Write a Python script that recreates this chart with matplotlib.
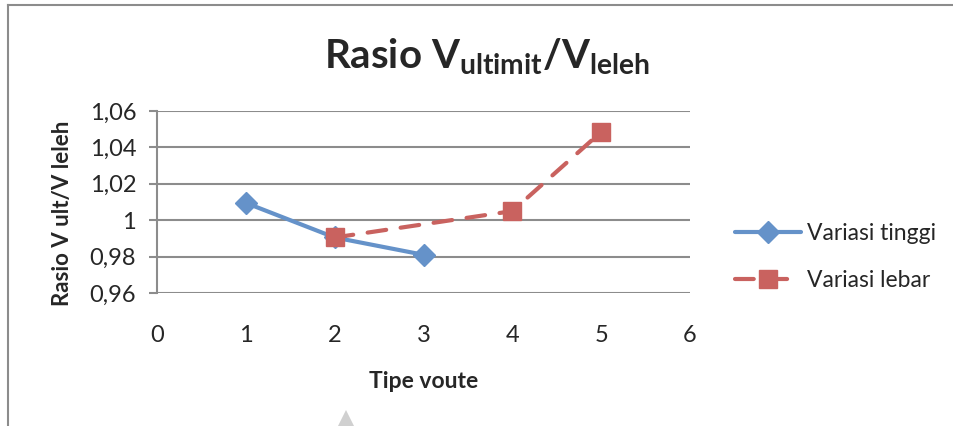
import matplotlib
matplotlib.use("Agg")
import matplotlib.pyplot as plt
from matplotlib.lines import Line2D
from matplotlib.patches import Polygon

# Data
x_tinggi = [1, 2, 3]
y_tinggi = [1.0095, 0.9905, 0.981]
x_lebar = [2, 4, 5]
y_lebar = [0.9905, 1.005, 1.0485]
xticks = [0, 1, 2, 3, 4, 5, 6]
yticks = [0.96, 0.98, 1.00, 1.02, 1.04, 1.06]
ytick_labels = ["0,96", "0,98", "1", "1,02", "1,04", "1,06"]

plt.rcParams['font.family'] = ['Lato', 'DejaVu Sans']
plt.rcParams['mathtext.fontset'] = 'custom'
plt.rcParams['mathtext.rm'] = 'Lato:bold'
plt.rcParams['mathtext.it'] = 'Lato:bold'
plt.rcParams['mathtext.bf'] = 'Lato:bold'

fig = plt.figure(figsize=(9.54, 4.26), dpi=100)
ax = fig.add_axes([157/954, 1-293/426, (690-157)/954, (293-111)/426])

blue = '#6592C9'
red = '#C9625F'
grid = '#8C8C8C'
txt = '#262626'

ax.plot(x_tinggi, y_tinggi, color=blue, lw=3, marker='D', ms=11,
        markerfacecolor=blue, markeredgecolor=blue, label='Variasi tinggi',
        solid_capstyle='round')
ax.plot(x_lebar, y_lebar, color=red, lw=3, ls=(0, (4.5, 3.5)), marker='s', ms=12.5,
        markerfacecolor=red, markeredgecolor=red, label='Variasi lebar',
        dash_capstyle='round')

ax.set_xlim(0, 6)
ax.set_ylim(0.96, 1.06)
ax.set_xticks(xticks)
ax.set_xticklabels([str(v) for v in xticks])
ax.set_yticks(yticks)
ax.set_yticklabels(ytick_labels)
ax.yaxis.grid(True, color=grid, lw=1.5)
ax.set_axisbelow(True)
for s in ['top', 'right', 'bottom']:
    ax.spines[s].set_visible(False)
ax.spines['left'].set_color(grid)
ax.spines['left'].set_linewidth(1.5)
ax.tick_params(axis='y', length=6, width=1.5, color=grid, labelsize=17,
               labelcolor=txt, pad=9)
ax.tick_params(axis='x', length=0, labelsize=17, labelcolor=txt, pad=23)

ax.set_xlabel('Tipe voute', fontsize=16.5, fontweight='bold', color=txt, labelpad=18)
ax.set_ylabel('Rasio V ult/V leleh', fontsize=16, fontweight='bold', color=txt)
ax.yaxis.set_label_coords(-0.158, 0.44)

fig.text(487/954, 1-57/426, r'Rasio V$_{\mathrm{ultimit}}$/V$_{\mathrm{leleh}}$',
         ha='center', va='center', fontsize=29, fontweight='bold', color=txt)

leg = ax.legend(loc='center left', bbox_to_anchor=(735/954, 1-257/426),
                bbox_transform=fig.transFigure, frameon=False, fontsize=16.5,
                handlelength=2.9, handletextpad=0.25, labelspacing=1.1,
                borderaxespad=0, borderpad=0)
for t in leg.get_texts():
    t.set_color(txt)

# Chart frame
fig.add_artist(Line2D([8/954, 8/954], [0, 1-5/426], transform=fig.transFigure,
                      color='#8C8C8C', lw=1.5))
fig.add_artist(Line2D([8/954, 1], [1-5/426, 1-5/426], transform=fig.transFigure,
                      color='#8C8C8C', lw=1.5))
# small grey artifact at bottom
fig.add_artist(Polygon([[338/954, 0], [346/954, 1-410/426], [354/954, 0]],
                       closed=True, transform=fig.transFigure,
                       facecolor='#D0D0D0', edgecolor='none'))

fig.savefig('out.png', dpi=100)
